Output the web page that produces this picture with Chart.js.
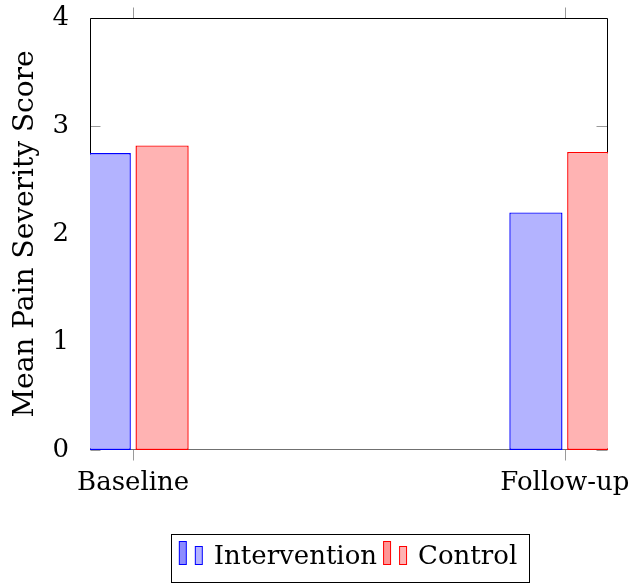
<!DOCTYPE html>
<html>
<head>
<meta charset="utf-8">
<script src="https://cdn.jsdelivr.net/npm/chart.js@4.4.0/dist/chart.umd.min.js"></script>
<style>
html, body { margin: 0; padding: 0; background: #fff; }
#wrap { width: 631px; height: 584px; }
</style>
</head>
<body>
<div id="wrap"><canvas id="myChart" width="631" height="584"></canvas></div>
<script>
/** Daten */
var categories = ['Baseline', 'Follow-up'];
var intervention = [2.75, 2.20];
var control = [2.82, 2.76];
var yTicks = [0, 1, 2, 3, 4];

Chart.defaults.font.family = "'DejaVu Serif', serif";
Chart.defaults.color = '#000';

/** Legend icons (two small bars like pgfplots) */
function legendIcon(line, fill1, fill2) {
  var c = document.createElement('canvas');
  c.width = 26; c.height = 34;
  var g = c.getContext('2d');
  g.lineWidth = 1;
  g.strokeStyle = line;
  g.fillStyle = fill1;
  g.fillRect(1, 1, 8, 24); g.strokeRect(1.5, 1.5, 7, 23);
  g.fillStyle = fill2;
  g.fillRect(17, 6, 8, 19); g.strokeRect(17.5, 6.5, 7, 18);
  return c;
}
var icons = [
  legendIcon('#0000ff', 'rgb(140,140,255)', 'rgb(179,179,255)'),
  legendIcon('#ff0000', 'rgb(255,150,150)', 'rgb(255,179,179)')
];

/** Rahmen, Ticks und Legendenbox */
var frame = {
  id: 'frame',
  beforeDatasetsDraw: function(chart) {
    var a = chart.chartArea, ctx = chart.ctx;
    var sx = chart.scales.x, sy = chart.scales.y;
    var L = Math.round(a.left) + 0.5, R = Math.round(a.right) - 0.5;
    var T = Math.round(a.top) + 0.5, B = Math.round(a.bottom) - 0.5;
    ctx.save();
    ctx.lineWidth = 1;
    ctx.strokeStyle = '#9a9a9a';
    ctx.beginPath();
    yTicks.forEach(function(v) {
      var py = Math.round(sy.getPixelForValue(v)) + 0.5;
      ctx.moveTo(L, py); ctx.lineTo(L + 10, py);
      ctx.moveTo(R - 11, py); ctx.lineTo(R, py);
    });
    categories.forEach(function(c, i) {
      var px = Math.round(sx.getPixelForValue(i)) + 0.5;
      ctx.moveTo(px, T - 11); ctx.lineTo(px, T);
      ctx.moveTo(px, B); ctx.lineTo(px, B + 11);
    });
    ctx.stroke();
    ctx.strokeStyle = '#000';
    ctx.beginPath();
    ctx.moveTo(L, B); ctx.lineTo(L, T); ctx.lineTo(R, T); ctx.lineTo(R, B);
    ctx.stroke();
    ctx.strokeStyle = '#707070';
    ctx.beginPath();
    ctx.moveTo(L, B); ctx.lineTo(R, B);
    ctx.stroke();
    ctx.restore();
  },
  afterDraw: function(chart) {
    var hb = chart.legend.legendHitBoxes;
    if (!hb || !hb.length) return;
    var last = hb[hb.length - 1];
    var x0 = Math.round(hb[0].left) - 9.5;
    var x1 = Math.round(last.left + last.width) + 12.5;
    var y0 = Math.round(hb[0].top) - 9.5;
    var y1 = Math.round(hb[0].top + hb[0].height) + 12.5;
    var ctx = chart.ctx;
    ctx.save();
    ctx.lineWidth = 1;
    ctx.strokeStyle = '#000';
    ctx.strokeRect(x0, y0, x1 - x0, y1 - y0);
    ctx.restore();
  }
};

var ctx = document.getElementById('myChart').getContext('2d');
var myChart = new Chart(ctx, {
  type: 'bar',
  data: {
    datasets: [{
      label: 'Intervention',
      data: intervention.map(function(v, i) { return { x: i, y: v }; }),
      backgroundColor: 'rgb(179,179,255)',
      borderColor: '#0000ff',
      borderWidth: 1.4,
      borderSkipped: false,
      clip: 0
    }, {
      label: 'Control',
      data: control.map(function(v, i) { return { x: i, y: v }; }),
      backgroundColor: 'rgb(255,179,179)',
      borderColor: '#ff0000',
      borderWidth: 1.4,
      borderSkipped: false,
      clip: 0
    }]
  },
  options: {
    responsive: false,
    animation: false,
    categoryPercentage: 0.268,
    barPercentage: 0.92,
    layout: { padding: { top: 18, right: 23, left: 0, bottom: 4 } },
    plugins: {
      tooltip: { enabled: false },
      legend: {
        position: 'bottom',
        fullSize: false,
        labels: {
          usePointStyle: true,
          pointStyleWidth: 20,
          boxHeight: 26,
          padding: 8,
          font: { size: 26 },
          generateLabels: function(chart) {
            return chart.data.datasets.map(function(d, i) {
              return { text: d.label, pointStyle: icons[i], datasetIndex: i,
                       fillStyle: d.backgroundColor, strokeStyle: d.borderColor, lineWidth: 0, hidden: false };
            });
          }
        }
      }
    },
    scales: {
      x: {
        type: 'linear',
        min: -0.1,
        max: 1.1,
        offset: false,
        grid: { display: false, offset: false },
        border: { display: false },
        afterBuildTicks: function(s) {
          s.ticks = categories.map(function(c, i) { return { value: i }; });
        },
        afterFit: function(s) { s.paddingLeft = 0; s.paddingRight = 0; s.height = 86; },
        ticks: {
          autoSkip: false,
          maxRotation: 0,
          padding: 10,
          font: { size: 26 },
          callback: function(v, i) { return categories[i]; }
        }
      },
      y: {
        min: 0,
        max: 4,
        grid: { display: false },
        border: { display: false },
        afterBuildTicks: function(s) {
          s.ticks = yTicks.map(function(v) { return { value: v }; });
        },
        afterFit: function(s) { s.width = 90; s.paddingTop = 0; s.paddingBottom = 0; },
        ticks: { padding: 13, font: { size: 26 } },
        title: {
          display: true,
          text: 'Mean Pain Severity Score',
          font: { size: 28 },
          padding: { top: 9, bottom: 0 }
        }
      }
    }
  },
  plugins: [frame]
});
</script>
</body>
</html>
